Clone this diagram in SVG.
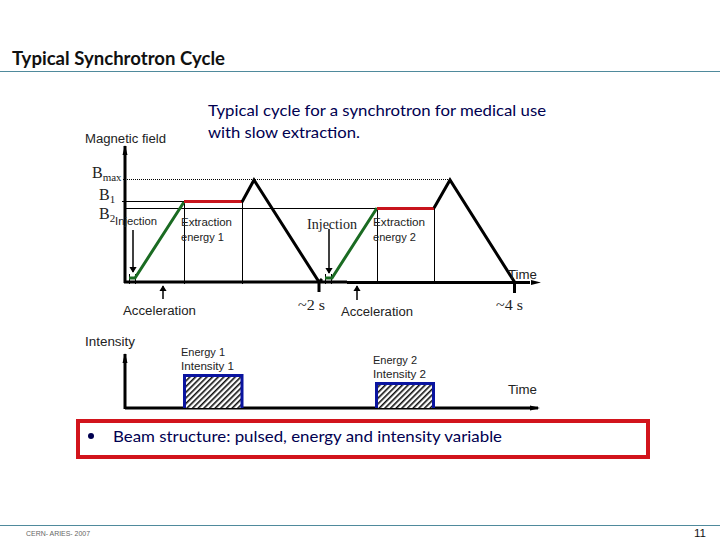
<svg xmlns="http://www.w3.org/2000/svg" width="720" height="540" viewBox="0 0 720 540">
<style>
text{font-family:"Liberation Sans",sans-serif;fill:#111}
.l{font-family:Lato,"Open Sans",sans-serif}
.n{fill:#000050}
.g{font-size:12px;fill:#222}
.s{font-size:10.5px;fill:#222}
.r{font-family:"Liberation Serif",serif;fill:#222}
.k{fill:none;stroke:#000;stroke-width:3}
.t{fill:none;stroke:#000;stroke-width:1}
.gr{fill:none;stroke:#1a6b22;stroke-width:3}
.rd{fill:none;stroke:#c8141c;stroke-width:3}
.bl{fill:url(#h);stroke:#0a14a0;stroke-width:3}
.a{stroke:#000;stroke-width:1.5;marker-end:url(#m)}
.rule{stroke:#4f8a9c;stroke-width:1}
</style>
<defs>
<pattern id="h" width="4" height="4" patternUnits="userSpaceOnUse" patternTransform="rotate(45)"><rect width="4" height="4" fill="#fff"/><rect width="1.600" height="4" fill="#111"/></pattern>
<marker id="m" markerWidth="4" markerHeight="5" refX="3.500" refY="2.500" orient="auto"><path d="M0 0L4 2.500L0 5Z" fill="#000"/></marker>
</defs>
<rect width="720" height="540" fill="#fff"/>
<g id="header">
<text class="l" x="12" y="65" font-size="18" font-weight="700" textLength="213" lengthAdjust="spacingAndGlyphs">Typical Synchrotron Cycle</text>
<line class="rule" x1="0" y1="71.500" x2="720" y2="71.500"/>
<text class="l n" x="208" y="116" font-size="16" textLength="338" lengthAdjust="spacingAndGlyphs">Typical cycle for a synchrotron for medical use</text>
<text class="l n" x="208" y="138" font-size="16" textLength="152" lengthAdjust="spacingAndGlyphs">with slow extraction.</text>
</g>
<g id="connectors">
<line x1="123" y1="179.500" x2="451" y2="179.500" stroke="#000" stroke-dasharray="1 1"/>
<line class="t" x1="122" y1="201.500" x2="184" y2="201.500"/>
<line class="t" x1="124" y1="208.500" x2="377" y2="208.500"/>
<line class="t" x1="184.500" y1="201" x2="184.500" y2="284"/>
<line class="t" x1="242.500" y1="201" x2="242.500" y2="284"/>
<line class="t" x1="377.500" y1="208" x2="377.500" y2="284"/>
<line class="t" x1="434.500" y1="208" x2="434.500" y2="284"/>
<line class="t" x1="129.500" y1="274" x2="129.500" y2="284"/>
<line class="t" x1="135.500" y1="274" x2="135.500" y2="284"/>
<line class="t" x1="325.500" y1="274" x2="325.500" y2="284"/>
<line class="t" x1="331.500" y1="274" x2="331.500" y2="284"/>
<path class="k" d="M125 146V283M124 282H347"/>
<path class="k" d="M347 282.500H530"/>
<path d="M125 145l-2.500 10h5zM541 282.500l-10-2.500v5z" fill="#000"/>
<path class="gr" d="M129 278H135L184 202"/>
<path class="gr" d="M325 278H332L377 208"/>
<path class="rd" d="M184 201.500H242"/>
<path class="rd" d="M377 208.500H434"/>
<path class="k" d="M242 202L254 180L319 282V292"/>
<path class="k" d="M319 282L322 279"/>
<path class="k" d="M434 208L450 180L514.500 282V293"/>
<line class="a" x1="133" y1="230" x2="133" y2="272"/>
<line class="a" x1="329" y1="229" x2="329" y2="273"/>
<line class="a" x1="163" y1="299" x2="163" y2="286"/>
<line class="a" x1="357" y1="300" x2="357" y2="286"/>
<path class="k" d="M125 354V409M125 408H538"/>
<path d="M125 353l-2.500 10h5zM540 408l-10-2.500v5z" fill="#000"/>
</g>
<g id="pulse-1"><path class="bl" d="M184.500 408V375.500H242V408"/></g>
<g id="pulse-2"><path class="bl" d="M376.500 408V383.500H433.500V408"/></g>
<g id="labels">
<text class="g" x="85" y="143" textLength="81" lengthAdjust="spacingAndGlyphs">Magnetic field</text>
<text class="r" x="92" y="178" font-size="16">B<tspan font-size="11" dy="3">max</tspan></text>
<text class="r" x="99" y="200" font-size="16">B<tspan font-size="11" dy="3">1</tspan></text>
<text class="r" x="99" y="219" font-size="16">B<tspan font-size="11" dy="3">2</tspan></text>
<text class="s" x="115" y="225" textLength="42" lengthAdjust="spacingAndGlyphs">Injection</text>
<text class="s" x="181" y="226" textLength="51" lengthAdjust="spacingAndGlyphs">Extraction</text>
<text class="s" x="181" y="241" textLength="43" lengthAdjust="spacingAndGlyphs">energy 1</text>
<text class="r" x="307" y="229" font-size="14" textLength="50" lengthAdjust="spacingAndGlyphs">Injection</text>
<text class="s" x="373" y="226" textLength="52" lengthAdjust="spacingAndGlyphs">Extraction</text>
<text class="s" x="373" y="241" textLength="43" lengthAdjust="spacingAndGlyphs">energy 2</text>
<text class="g" x="508" y="279" textLength="29" lengthAdjust="spacingAndGlyphs">Time</text>
<text class="g" x="123" y="315" textLength="73" lengthAdjust="spacingAndGlyphs">Acceleration</text>
<text class="r" x="298" y="310" font-size="14" textLength="27" lengthAdjust="spacingAndGlyphs">~2 s</text>
<text class="g" x="341" y="316" textLength="72" lengthAdjust="spacingAndGlyphs">Acceleration</text>
<text class="r" x="496" y="310" font-size="14" textLength="27" lengthAdjust="spacingAndGlyphs">~4 s</text>
<text class="g" x="85" y="346" textLength="50" lengthAdjust="spacingAndGlyphs">Intensity</text>
<text class="s" x="181" y="356" textLength="44" lengthAdjust="spacingAndGlyphs">Energy 1</text>
<text class="s" x="181" y="370" textLength="53" lengthAdjust="spacingAndGlyphs">Intensity 1</text>
<text class="s" x="373" y="364" textLength="44" lengthAdjust="spacingAndGlyphs">Energy 2</text>
<text class="s" x="373" y="378" textLength="53" lengthAdjust="spacingAndGlyphs">Intensity 2</text>
<text class="g" x="508" y="394" textLength="29" lengthAdjust="spacingAndGlyphs">Time</text>
</g>
<g id="callout">
<rect x="78" y="421" width="570" height="36" fill="none" stroke="#d2141c" stroke-width="4"/>
<circle cx="91" cy="436" r="3" fill="#000050"/>
<text class="l n" x="113" y="442" font-size="16" textLength="389" lengthAdjust="spacingAndGlyphs">Beam structure: pulsed, energy and intensity variable</text>
</g>
<g id="footer">
<line class="rule" x1="0" y1="525.500" x2="720" y2="525.500"/>
<text x="26" y="536" font-size="6.500" style="fill:#666" textLength="64" lengthAdjust="spacingAndGlyphs">CERN- ARIES- 2007</text>
<text x="694" y="537" font-size="11" textLength="12" lengthAdjust="spacingAndGlyphs">11</text>
</g>
</svg>
